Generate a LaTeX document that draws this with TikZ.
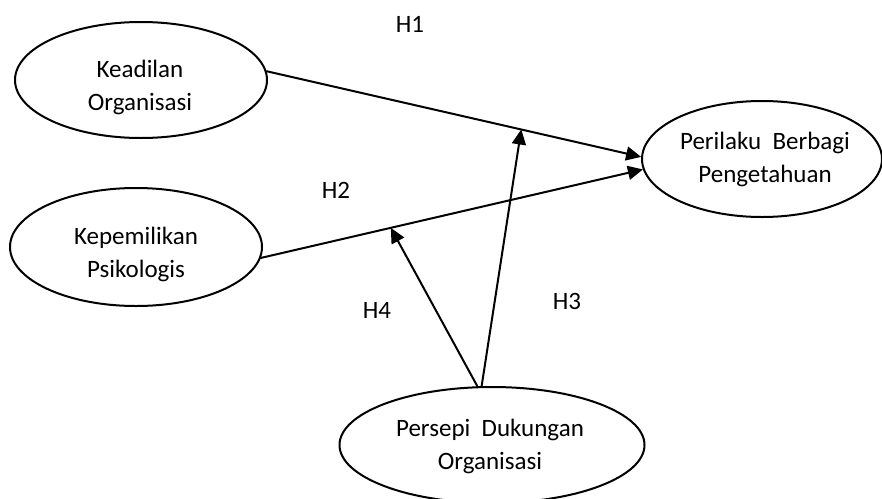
\documentclass[tikz,border=0pt]{standalone}
\usepackage{fontspec}
\setmainfont{Carlito}
\usetikzlibrary{arrows.meta}
\usetikzlibrary{shapes.geometric}

\begin{document}
\begin{tikzpicture}[line cap=round,line join=round,>={Triangle[length=7.5pt,width=7pt]},x=0.5pt,y=-0.5pt,
  konstruk/.style={draw,ellipse,line width=1pt,inner sep=0pt},
  teks/.style={align=center,inner sep=0pt,font=\fontsize{12.5}{16.5}\selectfont},
  hipotesis/.style={font=\fontsize{12.5}{15}\selectfont},
  panah/.style={->,line width=1pt}]
\clip (0,0) rectangle (882,498);
% variabel
\node[konstruk,minimum width=126pt,minimum height=58pt] (keadilan) at (141,80) {};
\node[konstruk,minimum width=120pt,minimum height=58pt] (perilaku) at (762,159) {};
\node[konstruk,minimum width=126pt,minimum height=59pt] (kepemilikan) at (136,247) {};
\node[konstruk,minimum width=152.5pt,minimum height=58pt] (persepi) at (492,445) {};
\node[teks] (tkeadilan) at (140,87) {Keadilan\\Organisasi};
\node[teks] (tperilaku) at (765,159) {Perilaku~ Berbagi\\Pengetahuan};
\node[teks] (tkepemilikan) at (136,254) {Kepemilikan\\Psikologis};
\node[teks] (tpersepi) at (490,446) {Persepi~ Dukungan\\Organisasi};
% hubungan
\draw[panah] (keadilan.4) -- coordinate[pos=0.68] (titik1) (perilaku.179);
\draw[panah] (kepemilikan.-5) -- coordinate[pos=0.34] (titik2) (perilaku.185);
\draw[panah] (persepi.100) -- (titik1);
\draw[panah] (persepi.104) -- (titik2);
% label hipotesis
\node[hipotesis] (h1) at (410,24) {H1};
\node[hipotesis] (h2) at (336,190) {H2};
\node[hipotesis] (h3) at (567,301) {H3};
\node[hipotesis] (h4) at (377,310) {H4};
\end{tikzpicture}
\end{document}
